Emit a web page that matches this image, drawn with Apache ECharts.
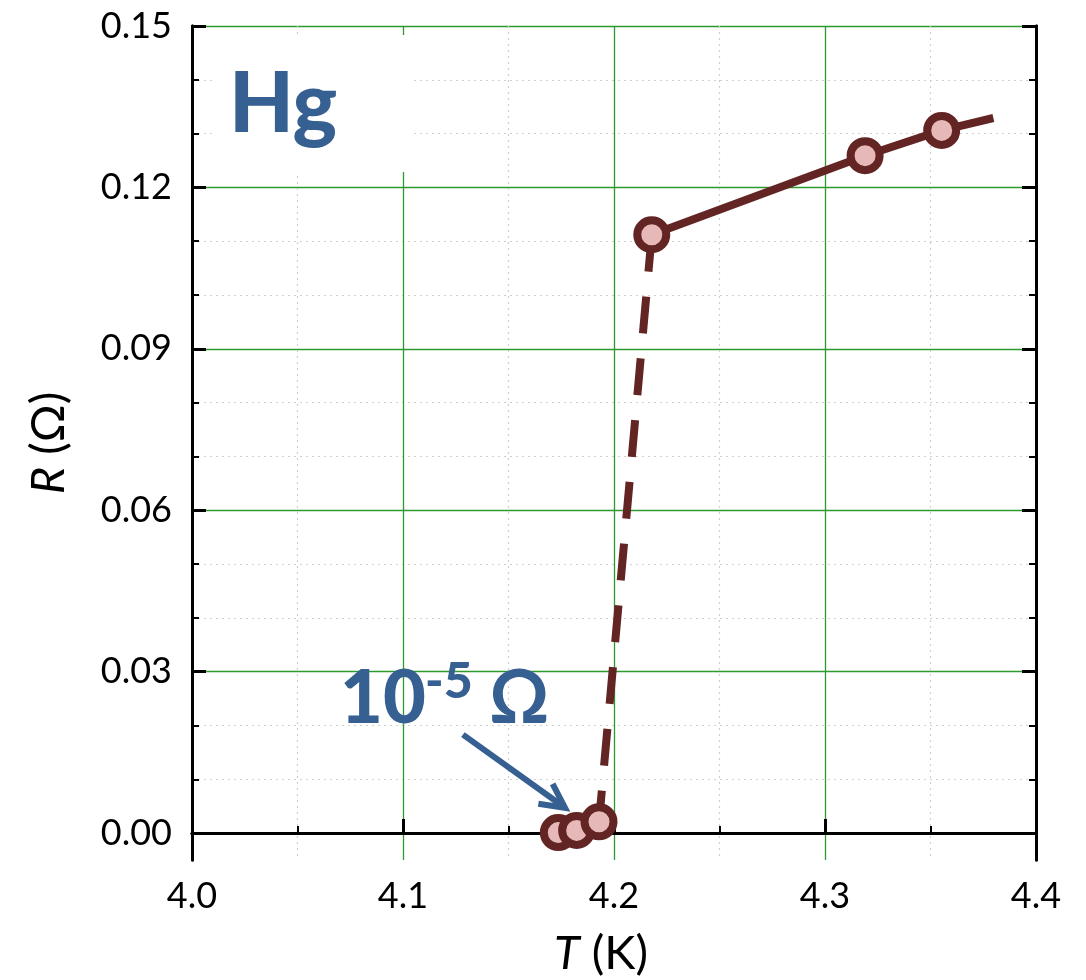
<!DOCTYPE html>
<html>
<head>
<meta charset="utf-8">
<script src="https://cdn.jsdelivr.net/npm/echarts@6/dist/echarts.min.js"></script>
<style>
html,body{margin:0;padding:0;background:#fff;}
#chart{width:1086px;height:980px;}
</style>
</head>
<body>
<div id="chart"></div>
<script>
// ---- data ----
const lowT = [4.1736, 4.1823, 4.1929];          // K, superconducting points
const lowR = [0.0001, 0.0005, 0.0021];          // Ohm
const highT = [4.2179, 4.3190, 4.3553];         // K, normal-state points
const highR = [0.1112, 0.1259, 0.1306];         // Ohm
const lineEndT = 4.3798;                        // end of normal-state line
const lineEndR = 0.1329;
const xTickValues = [4.0, 4.1, 4.2, 4.3, 4.4];
const yTickValues = [0.00, 0.03, 0.06, 0.09, 0.12, 0.15];
const yMinorValues = [0.01, 0.02, 0.04, 0.05, 0.07, 0.08, 0.10, 0.11, 0.13, 0.14];
const xRange = [4.0, 4.4];
const yRange = [-0.005, 0.15];
const arrowFrom = [4.1284, 0.0183];
const arrowTo = [4.1768, 0.0047];

const MAROON = '#632523', PINK = '#e6b9b8', BLUE = '#376092', GREEN = '#2e9a2e';
const FONT = 'Lato, "Open Sans", sans-serif';

const chart = echarts.init(document.getElementById('chart'));

const lowData = lowT.map((t, i) => [t, lowR[i]]);
const highData = highT.map((t, i) => [t, highR[i]]);
const normalLine = highData.concat([[lineEndT, lineEndR]]);
const transition = [highData[0], lowData[lowData.length - 1]];

function yAxisBase(pos, values, len, width, opts) {
  return Object.assign({
    type: 'value', position: pos, min: yRange[0], max: yRange[1],
    axisLine: {show: true, lineStyle: {color: '#000', width: 3}},
    axisTick: {show: true, inside: true, length: len, customValues: values,
               lineStyle: {color: '#000', width: width}},
    axisLabel: {show: false},
    splitLine: {show: false}
  }, opts || {});
}

const option = {
  animation: false,
  backgroundColor: '#fff',
  grid: {left: 192, right: 50, top: 26, bottom: 120, containLabel: false, outerBoundsMode: 'none'},
  xAxis: [
    {
      type: 'value', position: 'bottom', min: xRange[0], max: xRange[1], interval: 0.1,
      axisLine: {show: true, lineStyle: {color: '#000', width: 3}},
      axisTick: {show: true, inside: true, length: 14, lineStyle: {color: '#000', width: 3}},
      minorTick: {show: true, splitNumber: 2, length: 7, lineStyle: {color: '#000', width: 2}},
      minorSplitLine: {show: true, lineStyle: {color: '#cfcfcf', width: 1.2, type: [2, 4]}},
      splitLine: {show: true, lineStyle: {color: GREEN, width: 1.3}},
      axisLabel: {fontFamily: FONT, fontSize: 36, color: '#000', margin: 18,
                  formatter: v => v.toFixed(1)},
      name: '{i|T} (K)', nameLocation: 'middle', nameGap: 70,
      nameTextStyle: {fontFamily: FONT, fontSize: 47, color: '#000', padding: [0, 26, 0, 0],
                      rich: {i: {fontFamily: FONT, fontSize: 47, fontStyle: 'italic', color: '#000'}}}
    },
    {
      type: 'value', position: 'top', min: xRange[0], max: xRange[1], interval: 0.1,
      axisLine: {show: true, lineStyle: {color: '#000', width: 3}},
      axisTick: {show: false}, axisLabel: {show: false}, splitLine: {show: false}
    }
  ],
  yAxis: [
    yAxisBase('left', yMinorValues, 7, 2, {
      splitLine: {show: true, lineStyle: {color: '#cfcfcf', width: 1.2, type: [2, 4]}}
    }),
    yAxisBase('left', yTickValues, 14, 3, {
      splitLine: {show: true, lineStyle: {color: GREEN, width: 1.3}},
      axisLabel: {show: true, customValues: yTickValues, fontFamily: FONT, fontSize: 36,
                  color: '#000', margin: 20, formatter: v => v.toFixed(2)},
      name: '{i|R} (Ω)', nameLocation: 'middle', nameGap: 120,
      nameTextStyle: {fontFamily: FONT, fontSize: 47, color: '#000',
                      rich: {i: {fontFamily: FONT, fontSize: 47, fontStyle: 'italic', color: '#000'}}}
    }),
    yAxisBase('right', yMinorValues, 7, 2),
    yAxisBase('right', yTickValues, 14, 3)
  ],
  series: [
    {
      type: 'line', name: 'normal', data: normalLine, showSymbol: false, symbol: 'none',
      lineStyle: {color: MAROON, width: 8}, z: 3, silent: true
    },
    {
      type: 'line', name: 'transition', data: transition, symbol: 'none',
      lineStyle: {color: MAROON, width: 8, type: [37, 25]}, z: 3, silent: true
    },
    {
      type: 'scatter', name: 'points-low', data: lowData, symbol: 'circle', symbolSize: 29,
      itemStyle: {color: PINK, borderColor: MAROON, borderWidth: 8, opacity: 1}, z: 5
    },
    {
      type: 'scatter', name: 'points-high', data: highData, symbol: 'circle', symbolSize: 29,
      itemStyle: {color: PINK, borderColor: MAROON, borderWidth: 8, opacity: 1}, z: 5
    }
  ]
};
chart.setOption(option);

// annotations
const p0 = chart.convertToPixel({gridIndex: 0}, arrowFrom);
const p1 = chart.convertToPixel({gridIndex: 0}, arrowTo);
const ang = Math.atan2(p0[1] - p1[1], p0[0] - p1[0]);
const barbLen = 27, barbAng = 27 * Math.PI / 180;
const b1 = [p1[0] + barbLen * Math.cos(ang + barbAng), p1[1] + barbLen * Math.sin(ang + barbAng)];
const b2 = [p1[0] + barbLen * Math.cos(ang - barbAng), p1[1] + barbLen * Math.sin(ang - barbAng)];

chart.setOption({
  graphic: [
    {type: 'rect', shape: {x: 215, y: 35, width: 195, height: 137}, style: {fill: '#fff'}, z: 1, silent: true},
    {type: 'text', x: 229, y: 105, z: 10, style: {text: 'Hg', fill: BLUE, font: '900 84px ' + FONT,
      textAlign: 'left', textVerticalAlign: 'middle'}},
    {type: 'text', x: 340, y: 699, z: 10, style: {text: '10', fill: BLUE, font: '900 74px ' + FONT,
      textAlign: 'left', textVerticalAlign: 'middle'}},
    {type: 'text', x: 425, y: 682, z: 10, style: {text: '-5', fill: BLUE, font: '900 50px ' + FONT,
      textAlign: 'left', textVerticalAlign: 'middle'}},
    {type: 'text', x: 489, y: 699, z: 10, style: {text: 'Ω', fill: BLUE, font: 'bold 74px ' + FONT,
      textAlign: 'left', textVerticalAlign: 'middle'}},
    {type: 'line', z: 10, shape: {x1: p0[0], y1: p0[1], x2: p1[0], y2: p1[1]},
      style: {stroke: BLUE, lineWidth: 6}},
    {type: 'polyline', z: 10, shape: {points: [b1, p1, b2]},
      style: {stroke: BLUE, lineWidth: 6, fill: null, lineJoin: 'miter'}}
  ]
});
</script>
</body>
</html>
